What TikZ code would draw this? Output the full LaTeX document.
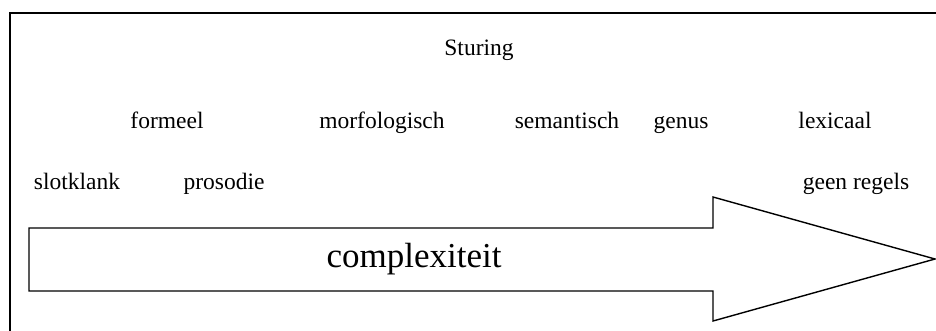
\documentclass[tikz,border=0pt]{standalone}
\usepackage{fontspec}
\setmainfont{Liberation Serif}
\begin{document}
\begin{tikzpicture}[x=1pt,y=-1pt,
  lbl/.style={anchor=base,inner sep=0pt,font=\fontsize{23.5}{27}\selectfont},
  big/.style={anchor=base,inner sep=0pt,font=\fontsize{35}{40}\selectfont},
  frame/.style={line width=2pt},
  bigarrow/.style={line width=1.4pt,line join=miter}]
\useasboundingbox (0,0) rectangle (936,330);
\clip (0,0) rectangle (936,330);
% outer frame (runs past the right and bottom edges)
\draw[frame] (10,13) rectangle (960,360);
% block arrow
\draw[bigarrow] (29,228) -- (713,228) -- (713,197) -- (935,259) -- (713,321) -- (713,291) -- (29,291) -- cycle;
% labels
\node[lbl] (sturing) at (479,55) {Sturing};
\node[lbl] (formeel) at (167,128) {formeel};
\node[lbl] (morf) at (382,128) {morfologisch};
\node[lbl] (sem) at (567,128) {semantisch};
\node[lbl] (genus) at (681,128) {genus};
\node[lbl] (lex) at (835,128) {lexicaal};
\node[lbl] (slot) at (77,189) {slotklank};
\node[lbl] (pros) at (224,189) {prosodie};
\node[lbl] (geen) at (856,189) {geen regels};
\node[big] (compl) at (414,267) {complexiteit};
\end{tikzpicture}
\end{document}
